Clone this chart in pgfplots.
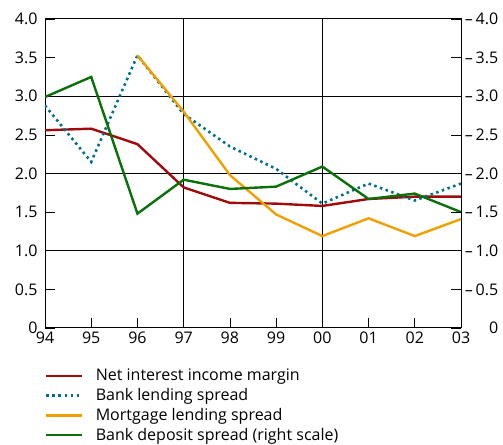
\documentclass[border=0pt]{standalone}
\usepackage{pgfplots}
\pgfplotsset{compat=1.18}
\usepackage{fontspec}
\setmainfont{Open Sans}
\definecolor{cred}{HTML}{A00A0A}
\definecolor{cteal}{HTML}{006E8C}
\definecolor{corange}{HTML}{F0A000}
\definecolor{cgreen}{HTML}{0A700A}
\begin{document}
\fontsize{16}{19}\selectfont
\begin{tikzpicture}
\begin{axis}[name=ax, scale only axis, width=416pt, height=309pt,
  xmin=0, xmax=9, ymin=0, ymax=4,
  xtick={0,...,9}, xticklabels={94,95,96,97,98,99,00,01,02,03},
  ytick={0,0.5,...,4}, yticklabels={0,0.5,1.0,1.5,2.0,2.5,3.0,3.5,4.0},
  xtick pos=bottom, ytick pos=left, tick align=inside, major tick length=10pt,
  extra x ticks={3,6}, extra x tick labels={}, extra x tick style={grid=major, major tick length=0pt},
  extra y ticks={1,2,3}, extra y tick labels={}, extra y tick style={grid=major, major tick length=0pt},
  grid style={black, line width=0.7pt},
  axis line style={line width=1pt},
  tick style={black, line width=0.7pt},
  ticklabel style={font=\fontsize{16}{19}\selectfont},
  xticklabel style={inner sep=2pt, yshift=-2pt},
  yticklabel style={xshift=-2pt},
  legend style={at={(0,-0.125)}, anchor=north west, draw=none, fill=none,
    cells={anchor=west}, font=\fontsize{16}{19}\selectfont, row sep=1.3pt, column sep=11pt, inner sep=0pt},
  legend image code/.code={\draw[#1] (0pt,0pt) -- (35pt,0pt);},
]
\addplot[cred, line width=2.4pt] coordinates {(0,2.56)(1,2.58)(2,2.38)(3,1.82)(4,1.62)(5,1.61)(6,1.58)(7,1.67)(8,1.70)(9,1.70)};
\addlegendentry{Net interest income margin}
\addplot[cteal, line width=2.6pt, dash pattern=on 2.5pt off 3.5pt] coordinates {(0,2.88)(1,2.15)(2,3.53)(3,2.77)(4,2.35)(5,2.06)(6,1.61)(7,1.87)(8,1.65)(9,1.87)};
\addlegendentry{Bank lending spread}
\addplot[corange, line width=2.4pt] coordinates {(2,3.53)(3,2.80)(4,1.98)(5,1.47)(6,1.19)(7,1.42)(8,1.19)(9,1.41)};
\addlegendentry{Mortgage lending spread}
\addplot[cgreen, line width=2.4pt] coordinates {(0,2.99)(1,3.25)(2,1.48)(3,1.92)(4,1.80)(5,1.83)(6,2.09)(7,1.67)(8,1.74)(9,1.50)};
\addlegendentry{Bank deposit spread (right scale)}
\end{axis}
\begin{axis}[scale only axis, width=416pt, height=309pt,
  xmin=0, xmax=9, ymin=0, ymax=4,
  axis x line=none, axis y line*=right,
  ytick={0,0.5,...,4},
  yticklabels={0,\textendash\,0.5,\textendash\,1.0,\textendash\,1.5,\textendash\,2.0,\textendash\,2.5,\textendash\,3.0,\textendash\,3.5,\textendash\,4.0},
  tick align=inside, major tick length=10pt,
  axis line style={line width=1pt},
  tick style={black, line width=0.7pt},
  ticklabel style={font=\fontsize{16}{19}\selectfont},
  yticklabel style={text width=34pt, align=right, inner sep=0pt, xshift=3pt},
]
\end{axis}
\path (ax.north east) ++(42pt,19pt) coordinate (ne);
\path (ax.south west) ++(-45pt,-115pt) rectangle (ne);
\end{tikzpicture}
\end{document}
